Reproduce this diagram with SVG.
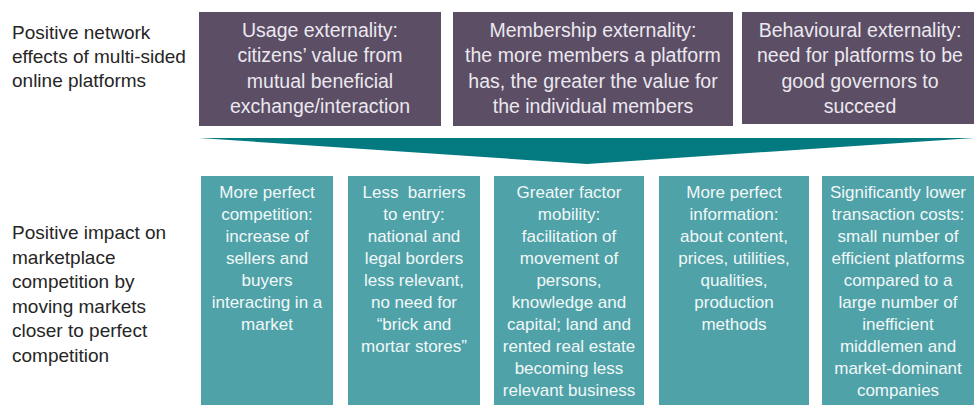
<svg xmlns="http://www.w3.org/2000/svg" width="974" height="406" viewBox="0 0 974 406">
<style>
  .lbl { font-family: "Liberation Sans", Arial, sans-serif; font-size: 19px; fill: #262626; }
  .top { fill: #5B4E65; }
  .bot { fill: #4FA2A8; }
  .tt { font-family: "Liberation Sans", Arial, sans-serif; font-size: 19.5px; fill: #ECE8F0; text-anchor: middle; }
  .bt { font-family: "Liberation Sans", Arial, sans-serif; font-size: 17px; fill: #F2F8F8; text-anchor: middle; }
</style>
<rect width="974" height="406" fill="#FFFFFF"/>
<g id="label-top">
  <text class="lbl" x="12" y="39">Positive network</text>
  <text class="lbl" x="12" y="63">effects of multi-sided</text>
  <text class="lbl" x="12" y="87">online platforms</text>
</g>
<g id="label-bottom">
  <text class="lbl" x="12" y="239">Positive impact on</text>
  <text class="lbl" x="12" y="264">marketplace</text>
  <text class="lbl" x="12" y="288">competition by</text>
  <text class="lbl" x="12" y="313">moving markets</text>
  <text class="lbl" x="12" y="337">closer to perfect</text>
  <text class="lbl" x="12" y="362">competition</text>
</g>
<g id="usage">
  <rect class="top" x="199" y="12" width="242" height="114"/>
  <text class="tt" x="320" y="37">Usage externality:</text>
  <text class="tt" x="320" y="62">citizens’ value from</text>
  <text class="tt" x="320" y="88">mutual beneficial</text>
  <text class="tt" x="320" y="113">exchange/interaction</text>
</g>
<g id="membership">
  <rect class="top" x="453" y="12" width="280" height="114"/>
  <text class="tt" x="593" y="37">Membership externality:</text>
  <text class="tt" x="593" y="62">the more members a platform</text>
  <text class="tt" x="593" y="88">has, the greater the value for</text>
  <text class="tt" x="593" y="113">the individual members</text>
</g>
<g id="behavioural">
  <rect class="top" x="742" y="12" width="232" height="112"/>
  <text class="tt" x="860" y="37">Behavioural externality:</text>
  <text class="tt" x="860" y="62">need for platforms to be</text>
  <text class="tt" x="860" y="88">good governors to</text>
  <text class="tt" x="860" y="113">succeed</text>
</g>
<g id="connectors">
  <polygon points="199,138 974,138 587,164" fill="#037A80"/>
</g>
<g id="competition">
  <rect class="bot" x="201" y="176" width="132" height="229"/>
  <text class="bt" x="267" y="198">More perfect</text>
  <text class="bt" x="267" y="220">competition:</text>
  <text class="bt" x="267" y="242">increase of</text>
  <text class="bt" x="267" y="264">sellers and</text>
  <text class="bt" x="267" y="286">buyers</text>
  <text class="bt" x="267" y="308">interacting in a</text>
  <text class="bt" x="267" y="330">market</text>
</g>
<g id="barriers">
  <rect class="bot" x="348" y="176" width="132" height="229"/>
  <text class="bt" x="414" y="198" xml:space="preserve">Less  barriers</text>
  <text class="bt" x="414" y="220">to entry:</text>
  <text class="bt" x="414" y="242">national and</text>
  <text class="bt" x="414" y="264">legal borders</text>
  <text class="bt" x="414" y="286">less relevant,</text>
  <text class="bt" x="414" y="308">no need for</text>
  <text class="bt" x="414" y="330">“brick and</text>
  <text class="bt" x="414" y="352">mortar stores”</text>
</g>
<g id="mobility">
  <rect class="bot" x="494" y="176" width="150" height="229"/>
  <text class="bt" x="569" y="198">Greater factor</text>
  <text class="bt" x="569" y="220">mobility:</text>
  <text class="bt" x="569" y="242">facilitation of</text>
  <text class="bt" x="569" y="264">movement of</text>
  <text class="bt" x="569" y="286">persons,</text>
  <text class="bt" x="569" y="308">knowledge and</text>
  <text class="bt" x="569" y="330">capital; land and</text>
  <text class="bt" x="569" y="352">rented real estate</text>
  <text class="bt" x="569" y="374">becoming less</text>
  <text class="bt" x="569" y="396">relevant business</text>
</g>
<g id="information">
  <rect class="bot" x="659" y="176" width="150" height="229"/>
  <text class="bt" x="734" y="198">More perfect</text>
  <text class="bt" x="734" y="220">information:</text>
  <text class="bt" x="734" y="242">about content,</text>
  <text class="bt" x="734" y="264">prices, utilities,</text>
  <text class="bt" x="734" y="286">qualities,</text>
  <text class="bt" x="734" y="308">production</text>
  <text class="bt" x="734" y="330">methods</text>
</g>
<g id="transaction">
  <rect class="bot" x="822" y="176" width="152" height="229"/>
  <text class="bt" x="898" y="198">Significantly lower</text>
  <text class="bt" x="898" y="220">transaction costs:</text>
  <text class="bt" x="898" y="242">small number of</text>
  <text class="bt" x="898" y="264">efficient platforms</text>
  <text class="bt" x="898" y="286">compared to a</text>
  <text class="bt" x="898" y="308">large number of</text>
  <text class="bt" x="898" y="330">inefficient</text>
  <text class="bt" x="898" y="352">middlemen and</text>
  <text class="bt" x="898" y="374">market-dominant</text>
  <text class="bt" x="898" y="396">companies</text>
</g>
</svg>
